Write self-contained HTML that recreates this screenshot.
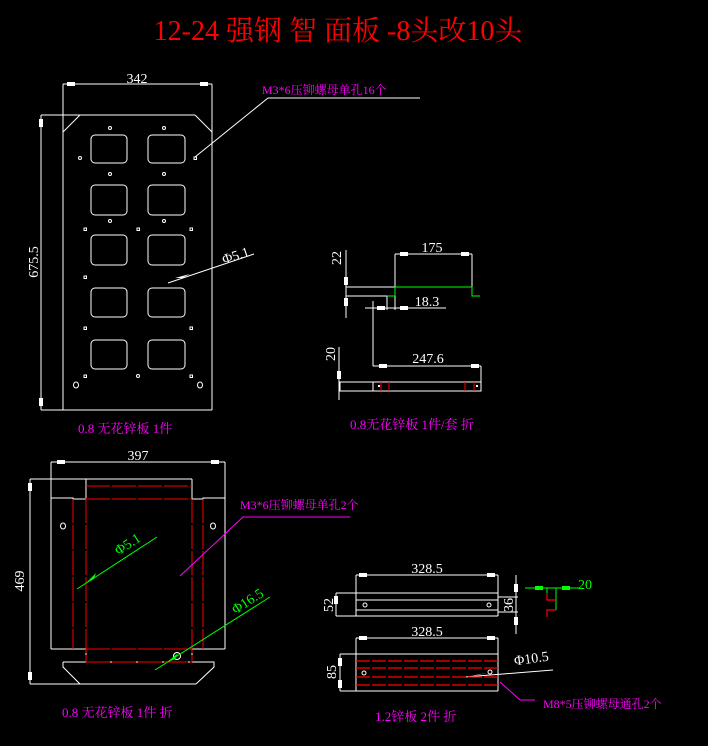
<!DOCTYPE html>
<html><head><meta charset="utf-8"><style>
html,body{margin:0;padding:0;background:#000;}
svg{display:block}
text{font-family:"Liberation Serif","Noto Serif CJK SC",serif;}
</style></head><body>
<svg width="708" height="746" viewBox="0 0 708 746" xmlns="http://www.w3.org/2000/svg">
<rect width="708" height="746" fill="#000"/>
<text x="338" y="40" fill="#ff0000" font-size="28" text-anchor="middle">12-24 强钢 智 面板 -8头改10头</text>

<!-- Panel 1 -->
<g stroke="#fff" stroke-width="1" fill="none">
<line x1="63" y1="84" x2="63" y2="410"/>
<line x1="212" y1="84" x2="212" y2="410"/>
<line x1="63" y1="84" x2="212" y2="84"/>
<line x1="41" y1="115" x2="195" y2="115"/>
<line x1="63" y1="132" x2="80" y2="115"/>
<line x1="195" y1="115" x2="212" y2="132"/>
<line x1="41" y1="410" x2="212" y2="410"/>
<line x1="41" y1="115" x2="41" y2="410"/>
<rect x="91" y="135" width="36" height="28" rx="4"/><rect x="148" y="135" width="37" height="28" rx="4"/>
<rect x="91" y="185" width="36" height="30" rx="4"/><rect x="148" y="185" width="37" height="30" rx="4"/>
<rect x="91" y="235" width="36" height="30" rx="4"/><rect x="148" y="235" width="37" height="30" rx="4"/>
<rect x="91" y="288" width="36" height="29" rx="4"/><rect x="148" y="288" width="37" height="29" rx="4"/>
<rect x="91" y="340" width="36" height="29" rx="4"/><rect x="148" y="340" width="37" height="29" rx="4"/>
<circle cx="110" cy="128" r="1.5"/><circle cx="164" cy="128" r="1.5"/>
<circle cx="80" cy="158" r="1.5"/><rect x="194" y="157" width="2.5" height="2.5"/>
<circle cx="110" cy="174" r="1.5"/><circle cx="164" cy="174" r="1.5"/>
<circle cx="110" cy="221" r="1.5"/><circle cx="164" cy="221" r="1.5"/>
<rect x="84" y="228" width="2.5" height="2.5"/><rect x="137" y="228" width="2.5" height="2.5"/><rect x="190" y="228" width="2.5" height="2.5"/>
<rect x="84" y="276" width="2.5" height="2.5"/>
<rect x="84" y="327" width="2.5" height="2.5"/><rect x="190" y="327" width="2.5" height="2.5"/>
<rect x="84" y="375" width="2.5" height="2.5"/><circle cx="138" cy="376" r="1.5"/><rect x="190" y="375" width="2.5" height="2.5"/>
<ellipse cx="76" cy="385" rx="2.5" ry="3"/><ellipse cx="200" cy="385" rx="2.5" ry="3"/>
<line x1="195" y1="157" x2="268" y2="98"/>
<line x1="268" y1="98" x2="420" y2="98"/>
<line x1="168" y1="283" x2="254" y2="254"/>
</g>
<g fill="#fff">
<rect x="67" y="82" width="8" height="4"/><rect x="200" y="82" width="8" height="4"/>
<rect x="39" y="119" width="4" height="8"/><rect x="39" y="398" width="4" height="8"/>
<polygon points="182,278 175,278 190,274"/>
</g>
<text x="137" y="83" fill="#fff" font-size="14" text-anchor="middle">342</text>
<text transform="translate(38,262) rotate(-90)" fill="#fff" font-size="14" text-anchor="middle">675.5</text>
<text transform="translate(237,260) rotate(-18)" fill="#fff" font-size="14" text-anchor="middle">Φ5.1</text>
<text x="262" y="94" fill="#ff00ff" font-size="12">M3*6压铆螺母单孔16个</text>
<text x="78" y="433" fill="#ff00ff" font-size="13">0.8 无花锌板 1件</text>

<!-- Panel 2 -->
<g stroke="#fff" stroke-width="1" fill="none">
<line x1="346" y1="250" x2="346" y2="318"/>
<line x1="346" y1="287" x2="395" y2="287"/>
<line x1="346" y1="296" x2="387" y2="296"/>
<line x1="395" y1="254" x2="472" y2="254"/>
<line x1="395" y1="254" x2="395" y2="310"/>
<line x1="472" y1="254" x2="472" y2="287"/>
<line x1="387" y1="296" x2="387" y2="310"/>
<line x1="365" y1="308" x2="446" y2="308"/>
<line x1="373" y1="301" x2="373" y2="366"/>
<line x1="373" y1="366" x2="481" y2="366"/>
<line x1="481" y1="366" x2="481" y2="391"/>
<rect x="340" y="382" width="141" height="9"/>
<line x1="339" y1="347" x2="339" y2="400"/>
<line x1="373" y1="382" x2="373" y2="391"/>
</g>
<g stroke="#00ff00" stroke-width="1" fill="none">
<polyline points="387,296 395,296 395,287 472,287 472,296 480,296"/>
</g>
<g stroke="#ff0000" stroke-width="1">
<line x1="381" y1="382" x2="381" y2="391"/><line x1="389" y1="382" x2="389" y2="391"/>
<line x1="465" y1="382" x2="465" y2="391"/><line x1="474" y1="382" x2="474" y2="391"/>
</g>
<g fill="#fff">
<rect x="400" y="252" width="8" height="4"/><rect x="461" y="252" width="8" height="4"/>
<rect x="344" y="277" width="4" height="8"/><rect x="344" y="298" width="4" height="8"/>
<rect x="377" y="306" width="8" height="4"/><rect x="400" y="306" width="8" height="4"/>
<rect x="379" y="364" width="8" height="4"/><rect x="471" y="364" width="8" height="4"/>
<rect x="337" y="371" width="4" height="8"/>
<rect x="378" y="385" width="2" height="2"/><rect x="476" y="385" width="2" height="2"/>
</g>
<text x="432" y="252" fill="#fff" font-size="14" text-anchor="middle">175</text>
<text x="427" y="306" fill="#fff" font-size="14" text-anchor="middle">18.3</text>
<text x="428" y="363" fill="#fff" font-size="14" text-anchor="middle">247.6</text>
<text transform="translate(341,258) rotate(-90)" fill="#fff" font-size="14" text-anchor="middle">22</text>
<text transform="translate(335,354) rotate(-90)" fill="#fff" font-size="14" text-anchor="middle">20</text>
<text x="350" y="429" fill="#ff00ff" font-size="13">0.8无花锌板 1件/套 折</text>

<!-- Panel 3 -->
<g stroke="#fff" stroke-width="1" fill="none">
<line x1="51" y1="462" x2="225" y2="462"/>
<line x1="30" y1="479" x2="192" y2="479"/>
<line x1="86" y1="479" x2="86" y2="498"/>
<line x1="192" y1="479" x2="192" y2="499"/>
<line x1="51" y1="462" x2="51" y2="649"/>
<line x1="225" y1="462" x2="225" y2="649"/>
<polyline points="51,498 73,498 73,499 86,499"/>
<polyline points="192,499 203,499 203,498 225,498"/>
<polyline points="51,649 86,649 86,662"/>
<polyline points="225,649 192,649 192,662"/>
<polyline points="63,662 214,662 214,667 196,684"/>
<polyline points="63,662 63,667 80,684"/>
<line x1="30" y1="684" x2="196" y2="684"/>
<line x1="30" y1="479" x2="30" y2="684"/>
<ellipse cx="63" cy="526" rx="2.5" ry="3"/>
<ellipse cx="213" cy="526" rx="2.5" ry="3"/>
<circle cx="177" cy="656" r="3.5"/>
</g>
<g stroke="#ff0000" stroke-width="1" stroke-dasharray="24,2" fill="none">
<line x1="73" y1="499" x2="73" y2="649"/>
<line x1="86" y1="499" x2="86" y2="662"/>
<line x1="192" y1="499" x2="192" y2="662"/>
<line x1="203" y1="499" x2="203" y2="649"/>
<line x1="86" y1="486" x2="192" y2="486"/>
<line x1="86" y1="499" x2="192" y2="499"/>
<line x1="86" y1="649" x2="192" y2="649"/>
<line x1="86" y1="662" x2="192" y2="662"/>
</g>
<g stroke="#00ff00" stroke-width="1">
<line x1="77" y1="589" x2="157" y2="537"/>
<line x1="155" y1="670" x2="270" y2="597"/>
</g>
<g fill="#00ff00">
<polygon points="86,583 96,573 94,579"/>
<polygon points="166,663 178,653 175,659"/>
</g>
<g stroke="#ff00ff" stroke-width="1" fill="none">
<polyline points="180,576 243,517 350,517"/>
</g>
<g fill="#fff">
<rect x="57" y="460" width="8" height="4"/><rect x="211" y="460" width="8" height="4"/>
<rect x="28" y="483" width="4" height="8"/><rect x="28" y="672" width="4" height="8"/>
</g>
<text x="138" y="460" fill="#fff" font-size="14" text-anchor="middle">397</text>
<text transform="translate(24,581) rotate(-90)" fill="#fff" font-size="14" text-anchor="middle">469</text>
<text transform="translate(130,548) rotate(-33)" fill="#00ff00" font-size="14" text-anchor="middle">Φ5.1</text>
<text transform="translate(250,605) rotate(-33)" fill="#00ff00" font-size="14" text-anchor="middle">Φ16.5</text>
<text x="240" y="509" fill="#ff00ff" font-size="12">M3*6压铆螺母单孔2个</text>
<text x="62" y="717" fill="#ff00ff" font-size="13">0.8 无花锌板 1件 折</text>

<!-- Panel 4 -->
<g stroke="#fff" stroke-width="1" fill="none">
<line x1="356" y1="575" x2="498" y2="575"/>
<line x1="356" y1="575" x2="356" y2="616"/>
<line x1="498" y1="575" x2="498" y2="616"/>
<line x1="336" y1="593" x2="498" y2="593"/>
<line x1="356" y1="600" x2="498" y2="600"/>
<line x1="356" y1="610" x2="498" y2="610"/>
<line x1="336" y1="616" x2="498" y2="616"/>
<line x1="336" y1="593" x2="336" y2="616"/>
<line x1="498" y1="597" x2="518" y2="597"/>
<line x1="498" y1="612" x2="518" y2="612"/>
<line x1="516" y1="575" x2="516" y2="634"/>
<circle cx="365" cy="605" r="2"/><circle cx="489" cy="605" r="2"/>
<line x1="356" y1="638" x2="498" y2="638"/>
<line x1="356" y1="638" x2="356" y2="691"/>
<line x1="498" y1="638" x2="498" y2="691"/>
<line x1="340" y1="654" x2="498" y2="654"/>
<line x1="340" y1="691" x2="498" y2="691"/>
<line x1="340" y1="654" x2="340" y2="691"/>
<circle cx="364" cy="673" r="2"/>
<circle cx="490" cy="672" r="2"/>
<line x1="465" y1="677" x2="553" y2="670"/>
</g>
<g stroke="#ff0000" stroke-width="1.2" stroke-dasharray="14,2" fill="none">
<line x1="356" y1="661" x2="498" y2="661"/>
<line x1="356" y1="668" x2="498" y2="668"/>
<line x1="356" y1="677" x2="498" y2="677"/>
<line x1="356" y1="685" x2="498" y2="685"/>
</g>
<g fill="#fff">
<rect x="359" y="573" width="8" height="4"/><rect x="487" y="573" width="8" height="4"/>
<rect x="359" y="636" width="8" height="4"/><rect x="487" y="636" width="8" height="4"/>
<rect x="514" y="584" width="4" height="8"/><rect x="514" y="617" width="4" height="8"/>
<rect x="334" y="596" width="4" height="8"/>
<rect x="338" y="658" width="4" height="8"/><rect x="338" y="680" width="4" height="8"/>
<polygon points="478,675 470,676 487,673"/>
</g>
<g stroke="#00ff00" stroke-width="1" fill="none">
<line x1="525" y1="588" x2="580" y2="588"/>
<line x1="547" y1="588" x2="547" y2="600"/>
<line x1="556" y1="588" x2="556" y2="610"/>
</g>
<g stroke="#ff0000" stroke-width="1.2" fill="none">
<polyline points="547,593 547,600 556,600"/>
<polyline points="556,610 547,610 547,617"/>
</g>
<g fill="#00ff00">
<rect x="535" y="586" width="8" height="4"/><rect x="562" y="586" width="8" height="4"/>
</g>
<g stroke="#ff00ff" stroke-width="1" fill="none">
<polyline points="500,682 520,700 535,700"/>
</g>
<text x="427" y="573" fill="#fff" font-size="14" text-anchor="middle">328.5</text>
<text x="427" y="636" fill="#fff" font-size="14" text-anchor="middle">328.5</text>
<text transform="translate(333,605) rotate(-90)" fill="#fff" font-size="14" text-anchor="middle">52</text>
<text transform="translate(513,605) rotate(-90)" fill="#fff" font-size="14" text-anchor="middle">36</text>
<text transform="translate(336,672) rotate(-90)" fill="#fff" font-size="14" text-anchor="middle">85</text>
<text transform="translate(532,663) rotate(-8)" fill="#fff" font-size="14" text-anchor="middle">Φ10.5</text>
<text x="578" y="589" fill="#00ff00" font-size="14">20</text>
<text x="543" y="708" fill="#ff00ff" font-size="12">M8*5压铆螺母通孔2个</text>
<text x="375" y="721" fill="#ff00ff" font-size="13">1.2锌板 2件 折</text>
</svg>
</body></html>
